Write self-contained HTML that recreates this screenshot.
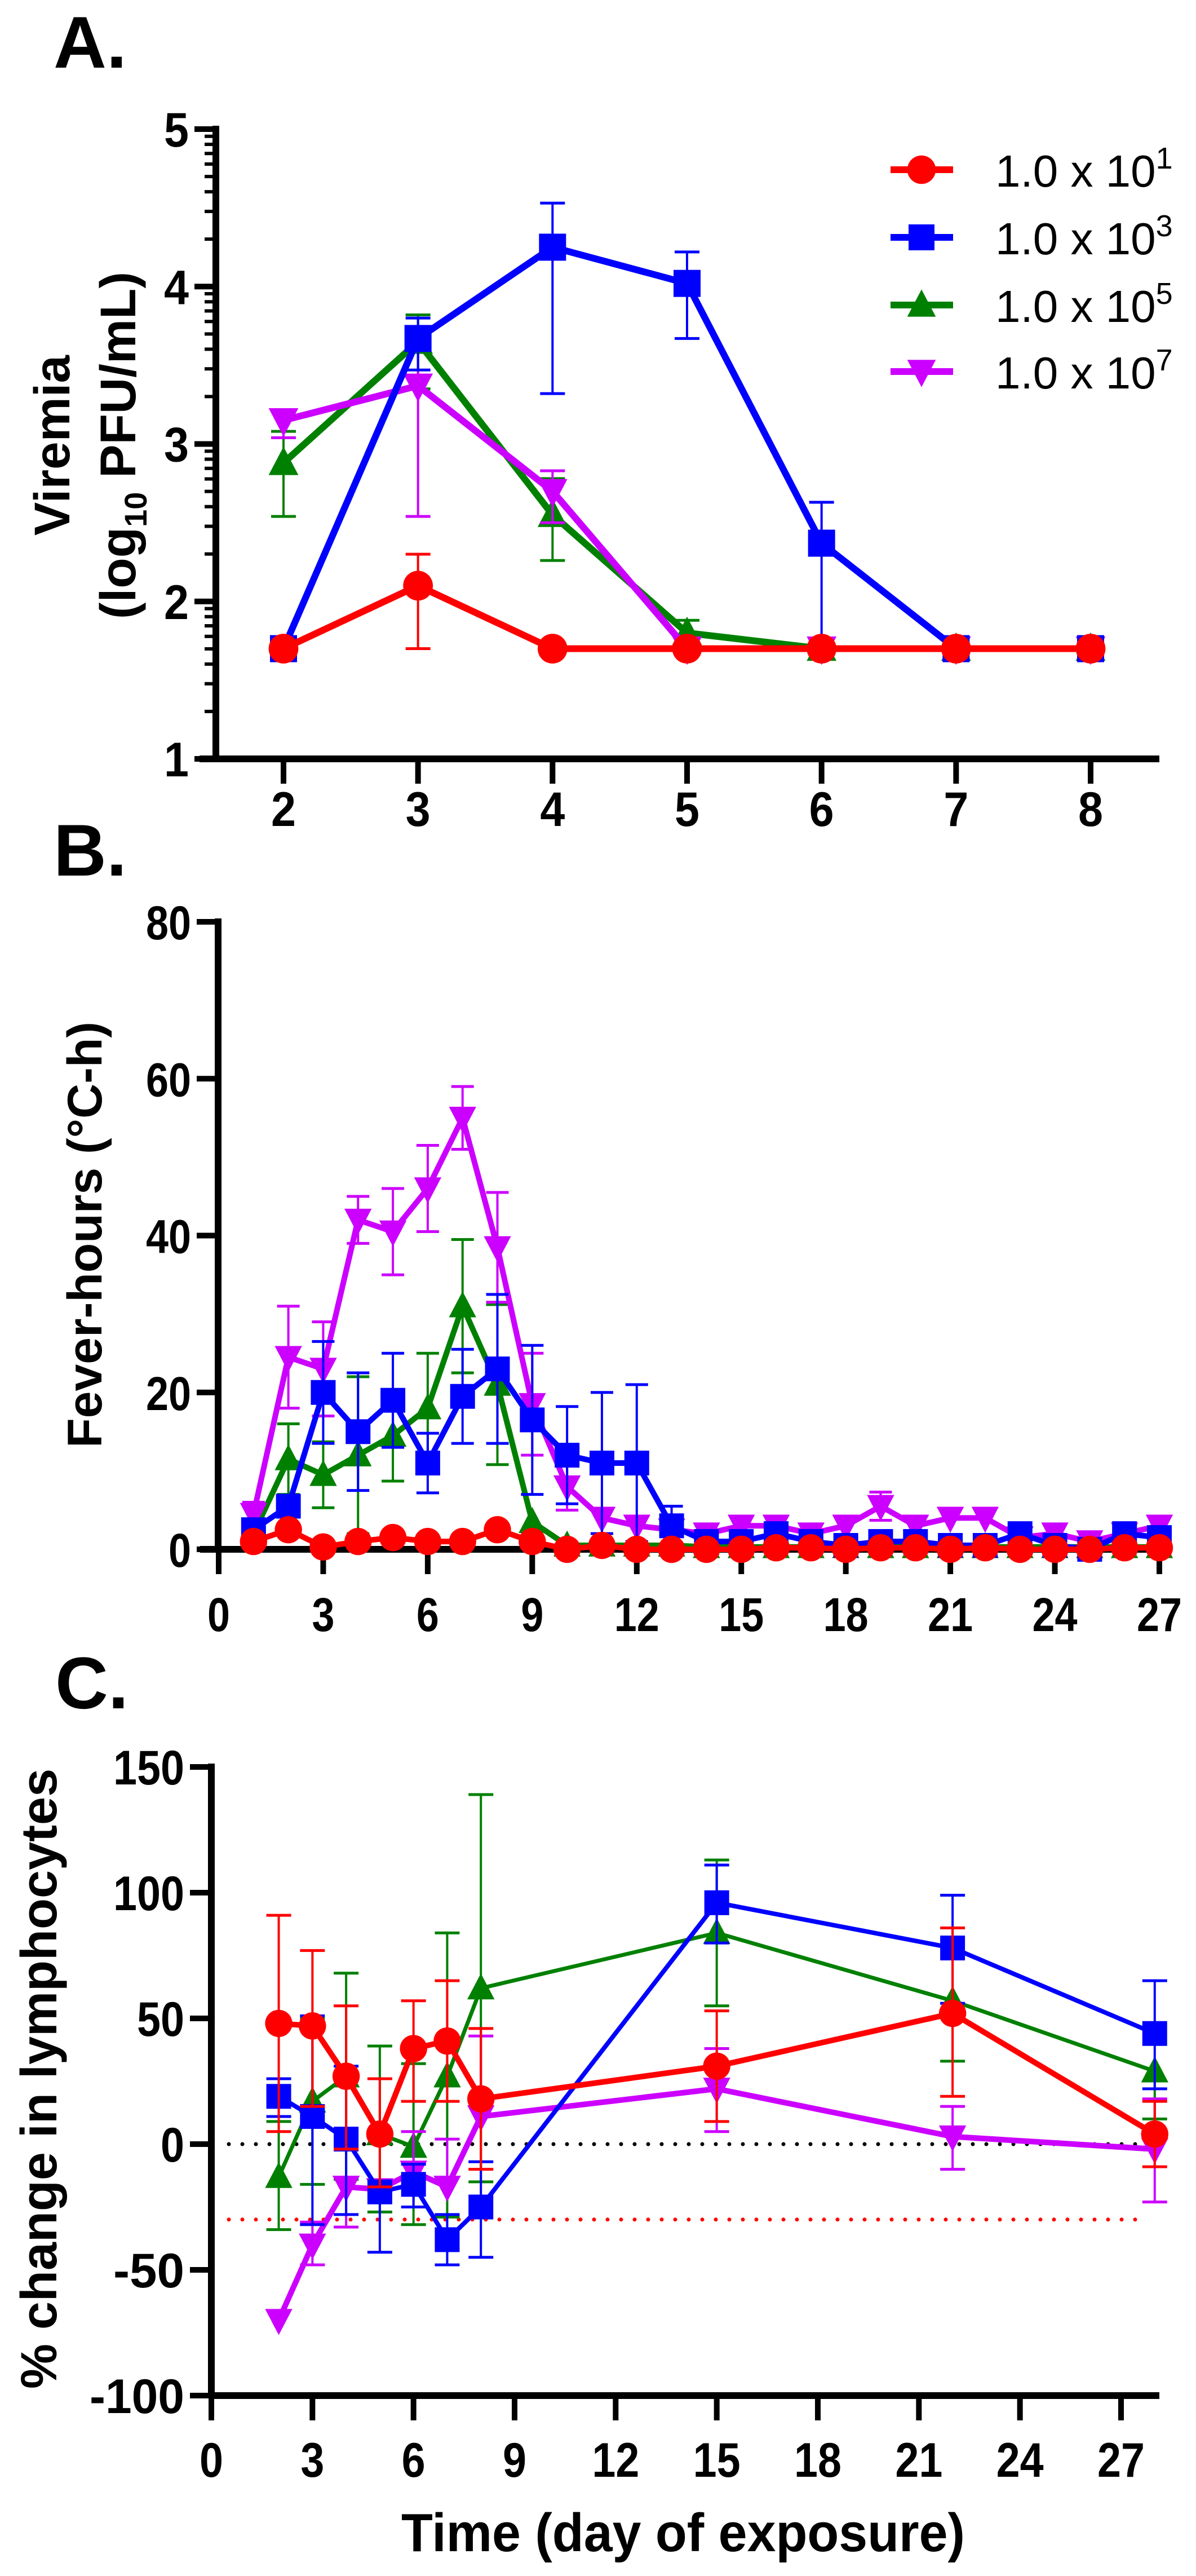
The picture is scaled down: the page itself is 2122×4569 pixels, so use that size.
<!DOCTYPE html>
<html><head><meta charset="utf-8"><style>
html,body{margin:0;padding:0;background:#fff;}
svg{display:block;}
text{font-family:"Liberation Sans",Arial,sans-serif;}
</style></head><body>
<svg id="fig" xmlns="http://www.w3.org/2000/svg" width="2122" height="4569" viewBox="0 0 2122 4569">
<rect width="2122" height="4569" fill="#fff"/>
<text x="95" y="120" font-size="130" font-weight="bold">A.</text>
<text x="95" y="1553" font-size="130" font-weight="bold">B.</text>
<text x="98" y="3030" font-size="130" font-weight="bold">C.</text>
<g transform="translate(0,790) rotate(-90)" font-weight="bold" font-size="89" text-anchor="middle">
<text x="0" y="123">Viremia</text>
<text x="0" y="240">(log<tspan font-size="56" dy="20">10</tspan><tspan dy="-20"> PFU/mL)</tspan></text>
</g>
<text transform="translate(180,2190) rotate(-90)" font-weight="bold" font-size="86" text-anchor="middle">Fever-hours (°C-h)</text>
<text transform="translate(100,3687) rotate(-90)" font-weight="bold" font-size="90" text-anchor="middle">% change in lymphocytes</text>
<text x="712" y="4525" font-weight="bold" font-size="96" textLength="1000" lengthAdjust="spacingAndGlyphs">Time (day of exposure)</text>
<g id="legend"></g>
</svg>
<script>
// ---------- Panel A data ----------
const aDays = [2,3,4,5,6,7,8];
const aRed = [1.7,2.1,1.7,1.7,1.7,1.7,1.7];
const aRedLo = [1.7,1.7,1.7,1.7,1.7,1.7,1.7];
const aRedHi = [1.7,2.3,1.7,1.7,1.7,1.7,1.7];
const aBlue = [1.7,3.67,4.25,4.02,2.37,1.7,1.7];
const aBlueLo = [1.7,3.47,3.32,3.67,1.7,1.7,1.7];
const aBlueHi = [1.7,3.8,4.53,4.22,2.63,1.7,1.7];
const aGreen = [2.88,3.65,2.55,1.8,1.7,1.7,1.7];
const aGreenLo = [2.54,3.35,2.26,1.8,1.7,1.7,1.7];
const aGreenHi = [3.08,3.82,2.78,1.88,1.7,1.7,1.7];
const aMag = [3.15,3.37,2.7,1.7,1.7,1.7,1.7];
const aMagLo = [3.04,2.54,2.5,1.7,1.7,1.7,1.7];
const aMagHi = [3.15,3.63,2.83,1.7,1.7,1.7,1.7];
const aYTicks = [1,2,3,4,5];
const aXTicks = [2,3,4,5,6,7,8];
// ---------- Panel B data ----------
const bDays = [1,2,3,4,5,6,7,8,9,10,11,12,13,14,15,16,17,18,19,20,21,22,23,24,25,26,27];
const bMag = [4.5,24.5,23,42,40.5,46,55,38.5,18.5,8,4,3,2.5,2,3,3,2,3,5.5,3,4,4,1.5,2,1,2,3];
const bMagErr = [1.5,6.5,6,3,5.5,5.5,4,7,6.5,3,0,0,0,0,0,0,0,0,1.8,0,0,0,0,0,0,0,0];
const bBlue = [2.5,5.5,20,15,19,11,19.5,23,16.5,12,11,11,3,1,1,2,1,0.5,1,1,0.5,0.5,2,0.5,0,2,1.5];
const bBlueErr = [0,0,6.5,7.5,6,3.8,6,9.5,9.5,6.2,9,10,2.5,0,0,0,0,0,0,0,0,0,0,0,0,0,0];
const bGreen = [2,11.5,9.5,12,14.5,18,31,21,3.5,0.5,0.5,0.5,0.5,0.3,0.3,0.3,0.3,0.3,0.3,0.3,0.3,0.3,0.3,0.3,0.3,0.3,0.3];
const bGreenErr = [0,4.5,4.2,10,5.8,7,8.5,10.2,0,0,0,0,0,0,0,0,0,0,0,0,0,0,0,0,0,0,0];
const bRed = [1,2.5,0.3,1,1.5,1,1,2.5,1,0,0.5,0,0,0,0,0.2,0.2,0,0.2,0.2,0,0.2,0,0,0,0.2,0.2];
const bRedErr = [0,0,0,0,0,0,0,0,0,0,0,0,0,0,0,0,0,0,0,0,0,0,0,0,0,0,0];
const bYTicks = [0,20,40,60,80];
const bXTicks = [0,3,6,9,12,15,18,21,24,27];
// ---------- Panel C data ----------
const cDays = [2,3,4,5,6,7,8,15,22,28];
const cRed = [48,47,27,4,38,41,18,31,52,4];
const cRedLo = [5,15,-2,-17,17,17,-10,9,19,-9];
const cRedHi = [91,77,55,26,57,65,46,53,86,17];
const cBlue = [19,11,2,-19,-16,-38,-25,96,78,44];
const cBlueLo = [11,-32,-28,-43,-25,-48,-45,80,56,22];
const cBlueHi = [26,51,31,-19,-8,-28,-7,111,99,65];
const cGreen = [-13,17,27,4,-1,27,62,84,57,29];
const cGreenLo = [-34,-16,-14,-27,-32,-29,-15,55,33,10];
const cGreenHi = [9,50,68,39,32,84,139,113,57,29];
const cMag = [-70,-40,-17,-18,-11,-17,11,22,3,-2];
const cMagLo = [-70,-48,-33,-18,-11,-17,11,5,-10,-23];
const cMagHi = [-70,-31,-17,-18,5,2,43,38,15,18];
const cYTicks = [-100,-50,0,50,100,150];
const cXTicks = [0,3,6,9,12,15,18,21,24,27];
const cRefZero = 0;
const cRefRed = -30;

const NS = "http://www.w3.org/2000/svg";
const svg = document.getElementById('fig');
const COL = {red:'#ff0000', blue:'#0000ff', green:'#008000', mag:'#cc00ff'};
function el(tag, attrs, parent){
  const e = document.createElementNS(NS, tag);
  for (const k in attrs) e.setAttribute(k, attrs[k]);
  (parent||svg).appendChild(e);
  return e;
}
function lin(d0,d1,r0,r1){ return v => r0 + (v-d0)*(r1-r0)/(d1-d0); }

function marker(g, shape, x, y, c, s){
  let m;
  if (shape==='circle') m = el('circle',{cx:x,cy:y,r:s*0.55,fill:c},g);
  else if (shape==='square') m = el('rect',{x:x-s/2,y:y-s/2,width:s,height:s,fill:c},g);
  else if (shape==='up') m = el('polygon',{points:`${x},${y-s*0.6} ${x-s*0.55},${y+s*0.45} ${x+s*0.55},${y+s*0.45}`,fill:c},g);
  else m = el('polygon',{points:`${x},${y+s*0.6} ${x-s*0.55},${y-s*0.45} ${x+s*0.55},${y-s*0.45}`,fill:c},g);
  
  
}

function series(name, xs, ys, lo, hi, X, Y, c, shape, lw, ms, cap){
  const g = el('g',{});
  
  
  for (let i=0;i<xs.length;i++){
    const x = X(xs[i]);
    const yl = Y(lo[i]), yh = Y(hi[i]);
    if (Math.abs(yl-yh) > 2){
      el('line',{x1:x,x2:x,y1:yl,y2:yh,stroke:c,'stroke-width':4},g);
      if (hi[i] !== ys[i]) el('line',{x1:x-cap,x2:x+cap,y1:yh,y2:yh,stroke:c,'stroke-width':5},g);
      if (lo[i] !== ys[i]) el('line',{x1:x-cap,x2:x+cap,y1:yl,y2:yl,stroke:c,'stroke-width':5},g);
    }
  }
  const pts = xs.map((v,i)=>X(v)+','+Y(ys[i])).join(' ');
  const pl = el('polyline',{points:pts,fill:'none',stroke:c,'stroke-width':lw,'stroke-linejoin':'round'},g);
  
  
  for (let i=0;i<xs.length;i++) marker(g, shape, X(xs[i]), Y(ys[i]), c, ms);
}

function tickText(g, x, y, t, anchor, fs, cw){
  const tx = el('text',{x:x,y:y,'font-size':fs,'font-weight':'bold','text-anchor':anchor,textLength:String(t).length*cw,lengthAdjust:'spacingAndGlyphs'},g);
  tx.textContent = t;
  return tx;
}

function axes(name, X, Y, xTicks, yTicks, xLineFrom, xLineTo, yTop, yBot, xAxisY, yAxisX, tickLblY, fs, cw){
  const g = el('g',{});
  
  
  el('line',{x1:yAxisX,x2:yAxisX,y1:yTop-6,y2:yBot,stroke:'#000','stroke-width':12},g);
  el('line',{x1:xLineFrom,x2:xLineTo,y1:xAxisY,y2:xAxisY,stroke:'#000','stroke-width':12},g);
  yTicks.forEach(t=>{
    const y = Y(t);
    el('line',{x1:yAxisX-38,x2:yAxisX,y1:y,y2:y,stroke:'#000','stroke-width':10},g);
    const tx = tickText(g, yAxisX-48, y+31, t, 'end', fs, cw);
    
    
  });
  xTicks.forEach(t=>{
    const x = X(t);
    el('line',{x1:x,x2:x,y1:xAxisY,y2:xAxisY+44,stroke:'#000','stroke-width':10},g);
    const tx = tickText(g, x, tickLblY, t, 'middle', fs, cw);
    
    
  });
  return g;
}

// ----- Panel A -----
const AX = lin(2,8,503,1935), AY = lin(1,5,1346,229);
const ga = axes('panel-a-axes', AX, AY, aXTicks, aYTicks, 354, 2057, 229, 1346, 1346, 383, 1465, 86, 44);
for (let d=1; d<5; d++) for (let k=2;k<10;k++){
  const y = AY(d + Math.log10(k));
  el('line',{x1:383-20,x2:383,y1:y,y2:y,stroke:'#000','stroke-width':6},ga);
}
series('series-a-green', aDays, aGreen, aGreenLo, aGreenHi, AX, AY, COL.green, 'up', 12, 48, 22);
series('series-a-magenta', aDays, aMag, aMagLo, aMagHi, AX, AY, COL.mag, 'down', 12, 48, 22);
series('series-a-blue', aDays, aBlue, aBlueLo, aBlueHi, AX, AY, COL.blue, 'square', 12, 48, 22);
series('series-a-red', aDays, aRed, aRedLo, aRedHi, AX, AY, COL.red, 'circle', 12, 48, 22);

// legend
const legend = document.getElementById('legend');
const legItems = [['red','circle','1'],['blue','square','3'],['green','up','5'],['mag','down','7']];
const legY = [301,421,541,659];
legItems.forEach((it,i)=>{
  const g = el('g',{},legend);
  
  
  el('line',{x1:1580,x2:1691,y1:legY[i],y2:legY[i],stroke:COL[it[0]],'stroke-width':12},g);
  marker(g, it[1], 1635, legY[i], COL[it[0]], 46);
  const t = el('text',{x:1766,y:legY[i]+30,'font-size':80},g);
  t.textContent = '1.0 x 10';
  const sp = el('tspan',{dy:-32,'font-size':54},t);
  sp.textContent = it[2];
});

// ----- Panel B -----
const BX = lin(0,27,388,2057), BY = lin(0,80,2748,1635);
axes('panel-b-axes', BX, BY, bXTicks, bYTicks, 355, 2070, 1635, 2748, 2748, 387, 2893, 84, 40);
const lo = (v,e)=>v.map((x,i)=>x-e[i]), hi=(v,e)=>v.map((x,i)=>x+e[i]);
series('series-b-green', bDays, bGreen, lo(bGreen,bGreenErr), hi(bGreen,bGreenErr), BX, BY, COL.green, 'up', 10, 44, 20);
series('series-b-magenta', bDays, bMag, lo(bMag,bMagErr), hi(bMag,bMagErr), BX, BY, COL.mag, 'down', 10, 44, 20);
series('series-b-blue', bDays, bBlue, lo(bBlue,bBlueErr), hi(bBlue,bBlueErr), BX, BY, COL.blue, 'square', 10, 44, 20);
series('series-b-red', bDays, bRed, lo(bRed,bRedErr), hi(bRed,bRedErr), BX, BY, COL.red, 'circle', 10, 44, 20);

// ----- Panel C -----
const CX = lin(0,27,375,1989), CY = lin(-100,150,4249,3134);
axes('panel-c-axes', CX, CY, cXTicks, cYTicks, 375, 2057, 3134, 4249, 4249, 375, 4393, 86, 42);
const z = el('line',{x1:406,x2:2030,y1:CY(cRefZero),y2:CY(cRefZero),stroke:'#000','stroke-width':7,'stroke-dasharray':'0 24','stroke-linecap':'round'});


const r = el('line',{x1:406,x2:2020,y1:CY(cRefRed),y2:CY(cRefRed),stroke:'#ff0000','stroke-width':7,'stroke-dasharray':'0 24','stroke-linecap':'round'});


series('series-c-green', cDays, cGreen, cGreenLo, cGreenHi, CX, CY, COL.green, 'up', 7, 44, 22);
series('series-c-magenta', cDays, cMag, cMagLo, cMagHi, CX, CY, COL.mag, 'down', 10, 44, 22);
series('series-c-blue', cDays, cBlue, cBlueLo, cBlueHi, CX, CY, COL.blue, 'square', 8, 44, 22);
series('series-c-red', cDays, cRed, cRedLo, cRedHi, CX, CY, COL.red, 'circle', 10, 44, 22);
</script>
</body></html>
